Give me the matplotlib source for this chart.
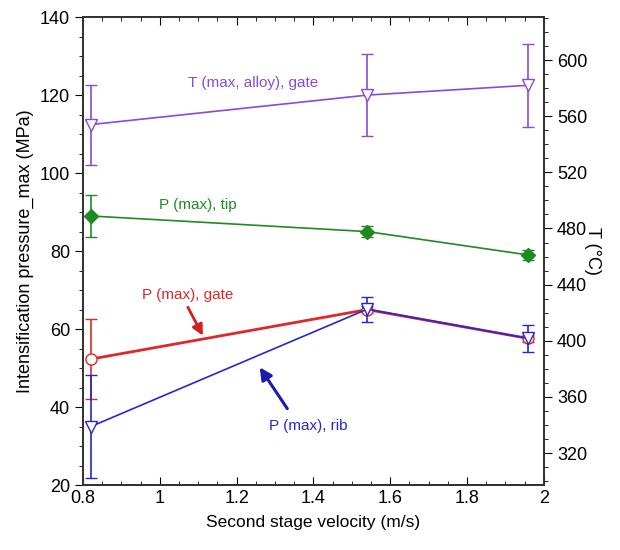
import numpy as np
import matplotlib.pyplot as plt
from matplotlib.ticker import MultipleLocator

plt.rcParams['font.family'] = ['Liberation Sans', 'DejaVu Sans']
NARROW = ['Liberation Sans Narrow', 'Liberation Sans', 'DejaVu Sans']

# ------------------------- data -------------------------
velocity = [0.82, 1.54, 1.96]

p_tip = [89.0, 85.0, 79.0]
p_tip_err = [5.5, 1.5, 1.2]

p_gate = [52.3, 65.0, 57.6]
p_gate_err = [10.2, 1.0, 1.0]

p_rib = [35.0, 65.1, 57.6]
p_rib_err = [13.2, 3.2, 3.4]

t_gate = [554.0, 575.0, 582.0]
t_gate_err = [28.5, 29.0, 29.5]

PURPLE = '#8a4ad8'
GREEN = '#1f8a24'
RED = '#e0282a'
BLUE = '#2626d6'

# ------------------------- plot -------------------------
fig = plt.figure(figsize=(6.2, 5.5), dpi=100)
ax = fig.add_axes([0.134, 0.118, 0.743, 0.851])
ax2 = ax.twinx()

ax.errorbar(velocity, p_tip, yerr=p_tip_err, color=GREEN, marker='D', ms=7,
            mfc=GREEN, mec=GREEN, lw=1.2, capsize=4, elinewidth=1.2, zorder=3)
ax.errorbar(velocity, p_gate, yerr=p_gate_err, color=RED, marker='o', ms=8,
            mfc='white', mec=RED, lw=2.0, capsize=4, elinewidth=1.2, zorder=3)
ax.errorbar(velocity, p_rib, yerr=p_rib_err, color=BLUE, marker='v', ms=9,
            mfc='white', mec=BLUE, lw=1.2, capsize=4, elinewidth=1.2, zorder=4)
ax2.errorbar(velocity, t_gate, yerr=t_gate_err, color=PURPLE, marker='v', ms=9,
             mfc='white', mec=PURPLE, lw=1.2, capsize=4, elinewidth=1.2)

ax.set_xlim(0.8, 2.0)
ax.set_ylim(20, 140)
ax2.set_ylim(297.2, 630.6)

ax.xaxis.set_major_locator(MultipleLocator(0.2))
ax.xaxis.set_minor_locator(MultipleLocator(0.05))
ax.yaxis.set_major_locator(MultipleLocator(20))
ax.yaxis.set_minor_locator(MultipleLocator(5))
ax2.yaxis.set_major_locator(MultipleLocator(40))
ax2.yaxis.set_minor_locator(MultipleLocator(10))
ax.set_xticks([0.8, 1.0, 1.2, 1.4, 1.6, 1.8, 2.0])
ax.set_xticklabels(['0.8', '1', '1.2', '1.4', '1.6', '1.8', '2'])

ax.tick_params(axis='x', which='both', direction='in', top=True, labelsize=13)
ax.tick_params(axis='x', which='major', length=6)
ax.tick_params(axis='x', which='minor', length=3)
ax.tick_params(axis='y', which='major', direction='out', length=6, labelsize=13)
ax.tick_params(axis='y', which='minor', direction='out', length=3)
ax2.tick_params(axis='y', which='major', direction='out', length=6, labelsize=13)
ax2.tick_params(axis='y', which='minor', direction='out', length=3)
for lab in ax.get_xticklabels() + ax.get_yticklabels() + ax2.get_yticklabels():
    lab.set_family(NARROW)

for a in (ax, ax2):
    for s in a.spines.values():
        s.set_color('#333333')
        s.set_linewidth(1.3)

ax.set_xlabel('Second stage velocity (m/s)', fontsize=12.5, labelpad=6)
ax.set_ylabel('Intensification pressure_max (MPa)', fontsize=13, labelpad=4)
ax2.set_ylabel('T (°C)', fontsize=13, rotation=270, labelpad=10)

# ---------------------- annotations ----------------------
ax.text(1.243, 123.1, 'T (max, alloy), gate', color=PURPLE, fontsize=11, family=NARROW,
        ha='center', va='center')
ax.text(1.10, 91.8, 'P (max), tip', color=GREEN, fontsize=11, family=NARROW,
        ha='center', va='center')
ax.text(1.073, 68.7, 'P (max), gate', color=RED, fontsize=11, family=NARROW,
        ha='center', va='center')
ax.text(1.386, 35.1, 'P (max), rib', color=BLUE, fontsize=11, family=NARROW,
        ha='center', va='center')

ax.annotate('', xy=(1.112, 58.3), xytext=(1.073, 65.6),
            arrowprops=dict(arrowstyle='-|>', color='#d02020', lw=2.0, mutation_scale=16,
                            shrinkA=0, shrinkB=0))
ax.annotate('', xy=(1.26, 50.2), xytext=(1.332, 39.6),
            arrowprops=dict(arrowstyle='-|>', color='#1a1ab0', lw=2.2, mutation_scale=18,
                            shrinkA=0, shrinkB=0))

fig.savefig('out.png', dpi=100)
